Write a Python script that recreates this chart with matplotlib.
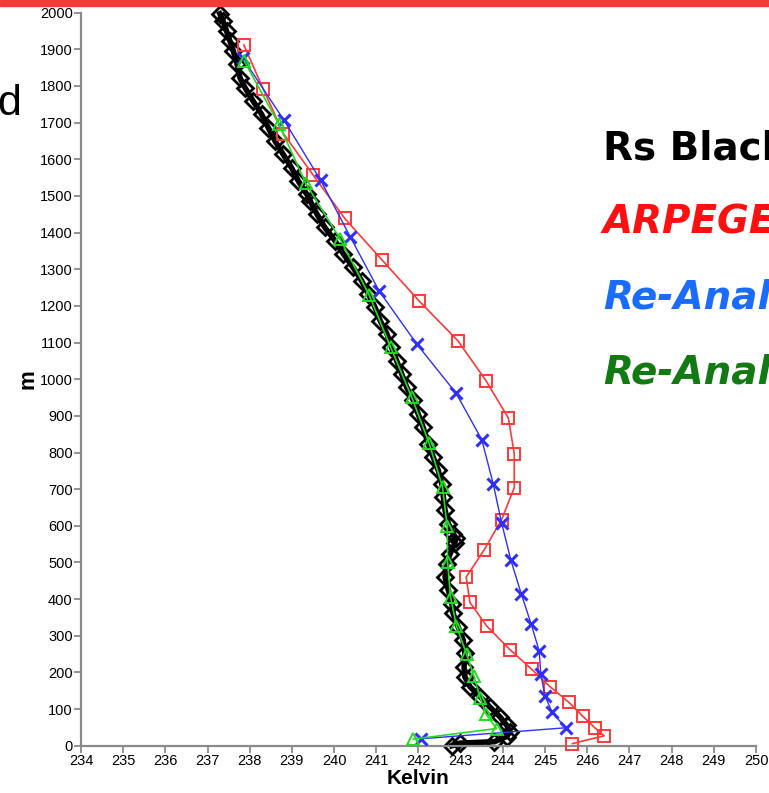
import matplotlib.pyplot as plt

# radiosonde profile (Kelvin, metres)
rs_temp = [242.79, 242.98, 243.80, 244.09, 244.17, 244.09, 243.93, 243.69, 243.46, 243.22,
           243.10, 243.08, 243.10, 243.06, 242.94, 242.82, 242.79, 242.71, 242.63, 242.67,
           242.75, 242.86, 242.89, 242.82, 242.71, 242.63, 242.59, 242.55, 242.47, 242.35,
           242.23, 242.11, 241.99, 241.88, 241.72, 241.60, 241.48, 241.36, 241.25, 241.09,
           240.97, 240.81, 240.65, 240.45, 240.22, 240.02, 239.78, 239.59, 239.43, 239.35,
           239.15, 238.99, 238.79, 238.60, 238.44, 238.28, 238.08, 237.89, 237.77, 237.70,
           237.61, 237.53, 237.45, 237.37, 237.29]
rs_alt = [0, 7, 11, 25, 38, 56, 79, 106, 134, 161,
          188, 215, 252, 288, 324, 361, 388, 424, 460, 497,
          524, 552, 566, 579, 606, 642, 678, 715, 751, 787,
          824, 869, 906, 942, 978, 1015, 1051, 1087, 1124, 1160,
          1196, 1233, 1269, 1305, 1342, 1378, 1414, 1451, 1487, 1505,
          1541, 1577, 1614, 1650, 1686, 1723, 1759, 1795, 1822, 1860,
          1896, 1923, 1950, 1977, 1997]

# ARPEGE model levels
arp_temp = [245.65, 246.40, 246.18, 245.89, 245.57, 245.12, 244.68, 244.17, 243.62, 243.22,
            243.13, 243.56, 243.97, 244.27, 244.27, 244.13, 243.60, 242.94, 242.02, 241.13,
            240.25, 239.51, 238.80, 238.32, 237.86]
arp_alt = [6, 27, 49, 81, 118, 161, 209, 262, 326, 391,
           460, 535, 617, 704, 797, 894, 996, 1104, 1213, 1326,
           1439, 1556, 1670, 1792, 1912]

# re-analysis 1
ra1_temp = [242.06, 245.49, 245.17, 245.00, 244.90, 244.86, 244.67, 244.44, 244.19, 243.97,
            243.77, 243.50, 242.89, 241.96, 241.07, 240.38, 239.68, 238.81, 237.83]
ra1_alt = [19, 49, 91, 135, 195, 259, 332, 413, 506, 608,
           715, 835, 962, 1096, 1240, 1389, 1543, 1707, 1877]

# re-analysis 2
ra2_temp = [241.88, 243.85, 243.60, 243.46, 243.31, 243.14, 242.90, 242.76, 242.69, 242.68,
            242.57, 242.25, 241.84, 241.34, 240.83, 240.14, 239.33, 238.69, 237.87]
ra2_alt = [18, 47, 86, 131, 191, 250, 326, 406, 501, 599,
           706, 826, 951, 1087, 1230, 1383, 1534, 1696, 1868]

x_ticks = list(range(234, 251))
y_ticks = list(range(0, 2001, 100))

legend_labels = ['Rs Black', 'ARPEGE', 'Re-Anal', 'Re-Anal']
legend_colors = ['black', '#ff1010', '#1a6cff', '#127a12']

plt.rcParams['font.family'] = ['Liberation Sans', 'DejaVu Sans']

fig = plt.figure(figsize=(7.69, 7.93), dpi=100)
ax = fig.add_axes([0.1053, 0.0596, 0.8778, 0.9244])

ax.plot(rs_temp, rs_alt, color='black', lw=4, marker='D', ms=8.5, mfc='none',
        mec='black', mew=2.0, clip_on=False, zorder=2)
ax.plot(arp_temp, arp_alt, color='#ff3838', lw=1.2, marker='s', ms=9, mfc='none',
        mec='#ff3838', mew=1.4, clip_on=False, zorder=3)
ax.plot(ra1_temp, ra1_alt, color='#2f2fff', lw=1.0, marker='x', ms=9, mew=2.2,
        clip_on=False, zorder=4)
ax.plot(ra2_temp, ra2_alt, color='#1fdc1f', lw=1.2, marker='^', ms=9, mfc='none',
        mec='#1fdc1f', mew=1.4, clip_on=False, zorder=5)

ax.set_xlim(234, 250)
ax.set_ylim(0, 2000)
ax.set_xticks(x_ticks)
ax.set_yticks(y_ticks)
ax.tick_params(direction='out', length=5, width=1.3, color='#8a8a8a',
               labelsize=10.5, pad=1)
for side in ['top', 'right']:
    ax.spines[side].set_visible(False)
for side in ['left', 'bottom']:
    ax.spines[side].set_color('#8a8a8a')
    ax.spines[side].set_linewidth(1.6)

ax.set_xlabel('Kelvin', fontsize=15, fontweight='bold', labelpad=1)
ax.set_ylabel('m', fontsize=16, fontweight='bold', labelpad=1)

# slide decorations around the chart
fig.patches.append(plt.Rectangle((0, 1 - 6 / 793), 1, 6 / 793, transform=fig.transFigure,
                                 color='#f53a3a', zorder=10))
fig.text(-0.003, 1 - 115 / 793, 'd', fontsize=31, ha='left', va='baseline')

for i, (lab, col) in enumerate(zip(legend_labels, legend_colors)):
    fig.text(603 / 769, 1 - (148 + 75 * i) / 793, lab, color=col, fontsize=28,
             fontweight='bold', family='DejaVu Sans', ha='left', va='center',
             style='normal' if i == 0 else 'oblique')

fig.savefig('out.png', dpi=100)
